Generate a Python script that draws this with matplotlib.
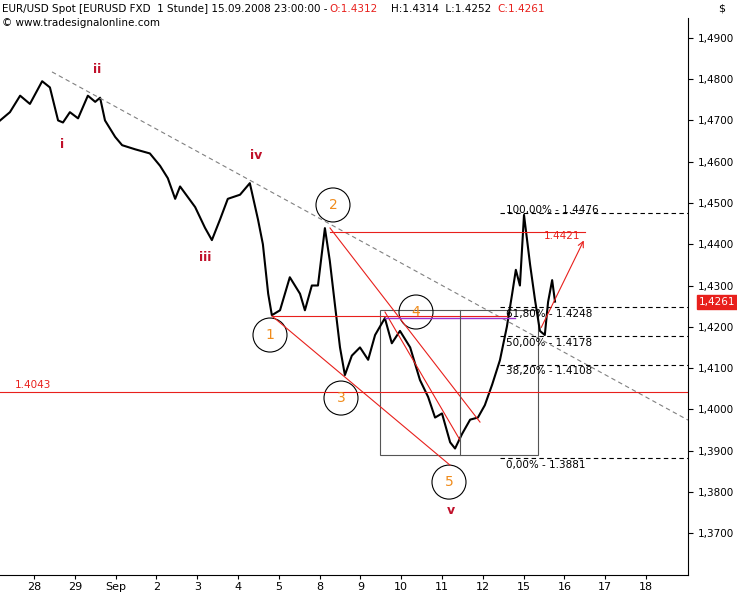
import matplotlib
matplotlib.use("Agg")
import matplotlib.pyplot as plt
from matplotlib.patches import Ellipse, Rectangle

# day index (0 = Aug 28) and closing prices
day = [-0.83,-0.59,-0.34,-0.10,0.20,0.39,0.59,0.71,0.88,1.08,1.32,1.50,1.62,1.74,1.99,2.16,2.48,2.84,3.09,3.28,
       3.46,3.58,3.95,4.19,4.36,4.56,4.75,5.05,5.29,5.49,5.61,5.74,5.83,6.03,6.27,6.52,6.64,6.81,6.96,7.13,
       7.25,7.38,7.50,7.62,7.79,7.99,8.19,8.36,8.60,8.77,8.97,9.22,9.46,9.66,9.83,10.00,10.20,10.32,10.49,10.69,
       10.88,11.05,11.23,11.42,11.59,11.72,11.81,11.91,12.01,12.16,12.28,12.40,12.52,12.60,12.70,12.77]
price = [1.4700,1.4720,1.4760,1.4740,1.4795,1.4780,1.4700,1.4695,1.4720,1.4705,1.4760,1.4745,1.4755,1.4700,1.4660,
         1.4640,1.4630,1.4620,1.4590,1.4560,1.4510,1.4540,1.4490,1.4440,1.4410,1.4460,1.4510,1.4520,1.4548,1.4460,
         1.4400,1.4280,1.4228,1.4240,1.4320,1.4280,1.4240,1.4300,1.4300,1.4439,1.4360,1.4250,1.4150,1.4083,1.4130,
         1.4150,1.4120,1.4180,1.4221,1.4160,1.4190,1.4150,1.4071,1.4030,1.3980,1.3990,1.3920,1.3905,1.3940,1.3975,
         1.3980,1.4010,1.4060,1.4119,1.4200,1.4280,1.4338,1.4300,1.4471,1.4350,1.4265,1.4190,1.4180,1.4260,1.4313,1.4261]
xlabels = ["28","29","Sep","2","3","4","5","8","9","10","11","12","15","16","17","18"]
yticks = [1.37,1.38,1.39,1.40,1.41,1.42,1.43,1.44,1.45,1.46,1.47,1.48,1.49]
fib_levels = [1.4476,1.4248,1.4178,1.4108,1.3881]
fib_labels = ["100,00% - 1.4476","61,80% - 1.4248","50,00% - 1.4178","38,20% - 1.4108","0,00% - 1.3881"]

def dx(px): return (px-34)/40.8
def py(y): return 1.49-(y-38)/4125.0

fig = plt.figure(figsize=(7.37,5.96), dpi=100)
ax = fig.add_axes([0.0,0.035,0.9335,0.935])
ax.set_xlim(dx(0), dx(688)); ax.set_ylim(py(575), py(18))
ax.plot(day, price, color="black", lw=1.5)

red = "#e8201c"
ax.plot([dx(52),dx(688)],[py(72),py(420)], ls=(0,(4,3)), color="gray", lw=0.8)
ax.axhline(1.4043, color=red, lw=0.8)
ax.text(dx(15),1.4043+0.0003,"1.4043",color=red,fontsize=7.5,va="bottom")
for (a,b,c,d) in [(272,316,450,465),(330,228,480,422),(330,232,585,232),(272,316,510,316),(385,312,460,440)]:
    ax.plot([dx(a),dx(c)],[py(b),py(d)],color=red,lw=0.8)
ax.plot([dx(385),dx(515)],[1.4221,1.4221],color="#9b30d0",lw=1)
ax.add_patch(Rectangle((dx(380),py(455)),dx(538)-dx(380),py(310)-py(455),fill=False,ec="#555",lw=0.8))
ax.plot([dx(460),dx(460)],[py(455),py(310)],color="#555",lw=0.8)
ax.annotate("",xy=(dx(585),py(238)),xytext=(dx(540),py(330)),arrowprops=dict(arrowstyle="->",color=red,lw=0.8))
ax.text(dx(580),py(236),"1.4421",color=red,fontsize=7.5,ha="right",va="center")
for lv,lb in zip(fib_levels,fib_labels):
    ax.plot([dx(500),dx(688)],[lv,lv],color="black",ls=(0,(4,3)),lw=0.8)
    ax.text(dx(506),lv-0.0004,lb,fontsize=7.5,va="top" if lv<1.44 else "bottom")
for (x,y,t) in [(270,335,"1"),(333,205,"2"),(341,398,"3"),(416,312,"4"),(449,482,"5")]:
    ax.add_patch(Ellipse((dx(x),py(y)),34/40.8,34/4125,fill=False,ec="black",lw=0.8))
    ax.text(dx(x),py(y),t,color="#f08c1c",fontsize=10,ha="center",va="center")
for (x,y,t) in [(62,145,"i"),(97,70,"ii"),(205,258,"iii"),(256,156,"iv"),(451,510,"v")]:
    ax.text(dx(x),py(y),t,color="#c0102a",fontsize=9,ha="center",va="center",fontweight="bold")

ax.set_xticks(range(len(xlabels))); ax.set_xticklabels(xlabels,fontsize=8)
ax.tick_params(axis="x",length=3,pad=2)
ax.yaxis.tick_right()
ax.set_yticks(yticks); ax.set_yticklabels([f"{v:.4f}".replace(".",",") for v in yticks],fontsize=7.5)
for s in ["top","left"]: ax.spines[s].set_visible(False)
ax.annotate("1,4261",xy=(1.0,1.4261),xycoords=("axes fraction","data"),xytext=(8,0),textcoords="offset points",
            fontsize=7.5,color="white",va="center",bbox=dict(boxstyle="square,pad=0.2",fc=red,ec=red))
fig.text(0.003,0.985,"EUR/USD Spot [EURUSD FXD  1 Stunde] 15.09.2008 23:00:00 - ",fontsize=7.5,va="center")
fig.text(0.447,0.985,"O:1.4312",color=red,fontsize=7.5,va="center")
fig.text(0.53,0.985,"H:1.4314  L:1.4252",fontsize=7.5,va="center")
fig.text(0.675,0.985,"C:1.4261",color=red,fontsize=7.5,va="center")
fig.text(0.003,0.962,"© www.tradesignalonline.com",fontsize=7.5,va="center")
fig.text(0.975,0.985,"$",fontsize=8,va="center")
fig.savefig("out.png",dpi=100)
